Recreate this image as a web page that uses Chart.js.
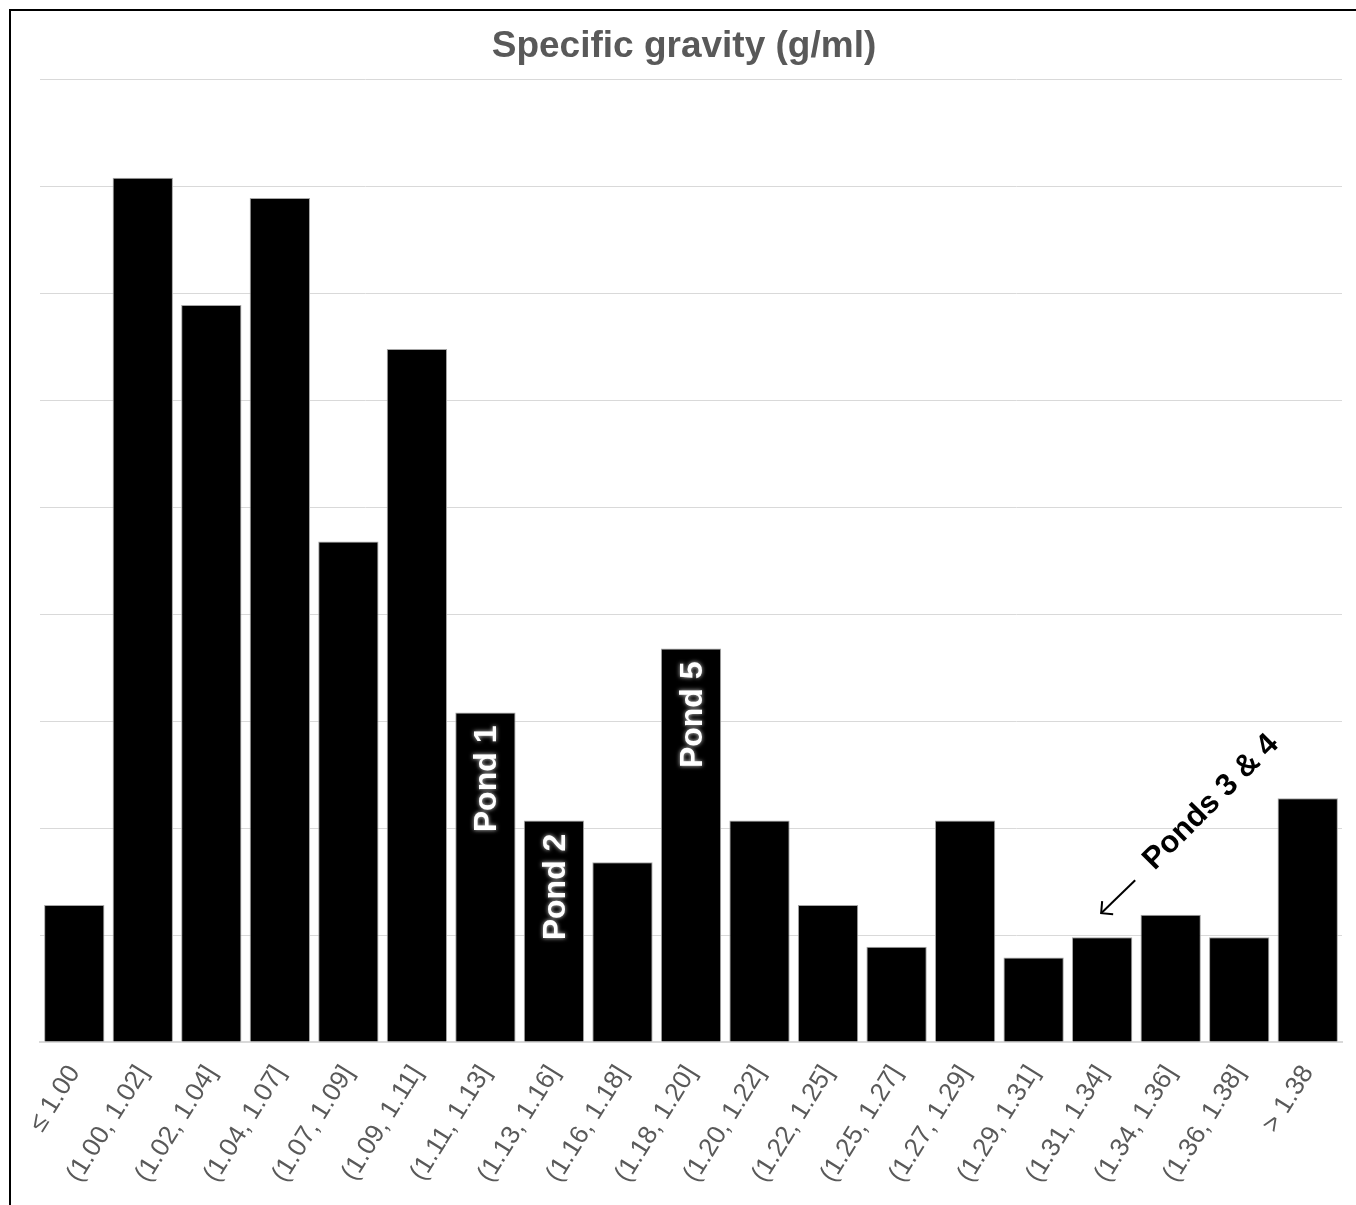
<!DOCTYPE html>
<html>
<head>
<meta charset="utf-8">
<script src="https://cdn.jsdelivr.net/npm/chart.js@4.4.1/dist/chart.umd.min.js"></script>
<style>
  html, body { margin: 0; padding: 0; background: #fff; }
  #wrap { position: relative; width: 1356px; height: 1205px; }
  #frame { position: absolute; left: 9px; top: 9px; width: 1400px; height: 1300px; border-left: 2px solid #000; border-top: 2px solid #000; pointer-events: none; }
  canvas { position: absolute; left: 0; top: 0; }
</style>
</head>
<body>
<div id="wrap">
  <canvas id="c" width="1356" height="1205"></canvas>
  <div id="frame"></div>
</div>
<script>
const categories = ["≤ 1.00", "(1.00, 1.02]", "(1.02, 1.04]", "(1.04, 1.07]", "(1.07, 1.09]", "(1.09, 1.11]",
  "(1.11, 1.13]", "(1.13, 1.16]", "(1.16, 1.18]", "(1.18, 1.20]", "(1.20, 1.22]", "(1.22, 1.25]",
  "(1.25, 1.27]", "(1.27, 1.29]", "(1.29, 1.31]", "(1.31, 1.34]", "(1.34, 1.36]", "(1.36, 1.38]", "> 1.38"];
const values = [1.28, 8.08, 6.89, 7.89, 4.68, 6.48, 3.08, 2.07, 1.68, 3.68, 2.07, 1.28, 0.89, 2.07, 0.79, 0.98, 1.19, 0.98, 2.28];
const titleText = "Specific gravity (g/ml)";
const insideLabels = [ {index: 6, text: "Pond 1"}, {index: 7, text: "Pond 2"}, {index: 9, text: "Pond 5"} ];
const arrowLabel = {index: 15, text: "Ponds 3 & 4"};

const FONT = "'Liberation Sans', Arial, sans-serif";

const annotate = {
  id: 'annotate',
  afterDatasetsDraw(chart) {
    const ctx = chart.ctx;
    const xs = chart.scales.x, ys = chart.scales.y;
    ctx.save();
    ctx.font = "bold 32px " + FONT;
    ctx.fillStyle = "#fff";
    ctx.shadowColor = "rgba(255,255,255,0.8)";
    ctx.shadowBlur = 4;
    insideLabels.forEach(l => {
      const x = xs.getPixelForValue(l.index);
      const y = ys.getPixelForValue(values[l.index]);
      ctx.save();
      ctx.translate(x + 2, y + 13);
      ctx.rotate(-Math.PI / 2);
      ctx.textAlign = "right";
      ctx.textBaseline = "middle";
      ctx.fillText(l.text, 0, 0);
      ctx.restore();
    });
    ctx.restore();

    // arrow label
    ctx.save();
    const ax = xs.getPixelForValue(arrowLabel.index);
    const ay = ys.getPixelForValue(values[arrowLabel.index]);
    ctx.fillStyle = "#000";
    ctx.font = "bold 31px " + FONT;
    ctx.translate(ax + 109, ay - 135);
    ctx.rotate(-Math.PI / 4);
    ctx.textAlign = "center";
    ctx.textBaseline = "middle";
    ctx.fillText(arrowLabel.text, 0, 0);
    ctx.restore();

    ctx.save();
    ctx.strokeStyle = "#000";
    ctx.lineWidth = 2;
    const tipX = ax - 1, tipY = ay - 24;
    const tailX = tipX + 34, tailY = tipY - 33;
    ctx.beginPath();
    ctx.moveTo(tailX, tailY);
    ctx.lineTo(tipX, tipY);
    ctx.stroke();
    ctx.beginPath();
    ctx.moveTo(tipX + 1, tipY - 12);
    ctx.lineTo(tipX, tipY);
    ctx.lineTo(tipX + 12, tipY + 1);
    ctx.stroke();
    ctx.restore();
  }
};

new Chart(document.getElementById('c'), {
  type: 'bar',
  data: {
    labels: categories,
    datasets: [{
      data: values,
      backgroundColor: "#000",
      borderColor: "#a6a6a6",
      borderWidth: 1,
      barPercentage: 0.88,
      categoryPercentage: 1.0
    }]
  },
  options: {
    responsive: false,
    animation: false,
    devicePixelRatio: 1,
    layout: { padding: { left: 26, right: 14, top: 0, bottom: 0 } },
    plugins: {
      legend: { display: false },
      tooltip: { enabled: false },
      title: {
        display: true,
        text: titleText,
        color: "#595959",
        font: { family: FONT, size: 37, weight: 'bold' },
        padding: { top: 25, bottom: 10 }
      }
    },
    scales: {
      x: {
        grid: { display: false, drawTicks: false },
        border: { display: true, color: "#d9d9d9", width: 2 },
        ticks: {
          color: "#595959",
          font: { family: FONT, size: 26 },
          minRotation: 58, maxRotation: 58,
          padding: 18,
          autoSkip: false
        },
        afterFit(scale) { scale.height = 163; }
      },
      y: {
        min: 0, max: 9,
        ticks: { display: false, stepSize: 1 },
        grid: { color: "#d9d9d9", lineWidth: 1, drawTicks: false },
        border: { display: false },
        afterFit(scale) { scale.width = 14; }
      }
    }
  },
  plugins: [annotate]
});
</script>
</body>
</html>
